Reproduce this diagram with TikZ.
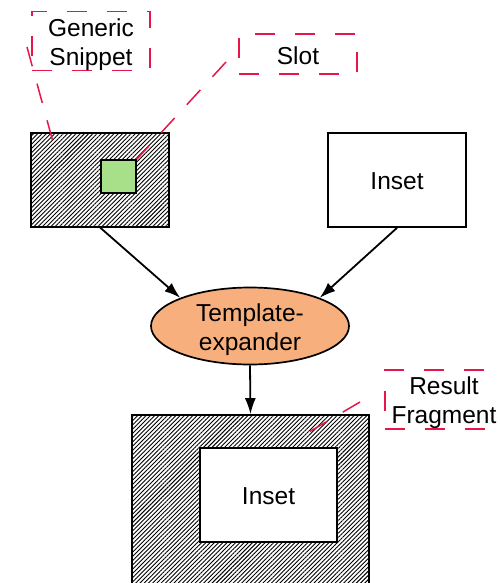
\documentclass[tikz,border=0pt]{standalone}
\usepackage{fontspec}
\setmainfont{Liberation Sans}
\usepackage{tikz}
\usetikzlibrary{shapes,arrows.meta,patterns.meta,positioning,calc}
\definecolor{notered}{RGB}{232,22,72}
\definecolor{slotgreen}{RGB}{168,224,138}
\definecolor{expanderorange}{RGB}{247,176,125}

\begin{document}
\begin{tikzpicture}[
    x=1pt, y=-1pt,
    font=\fontsize{24.5}{29}\selectfont,
    box/.style={rectangle, draw, line width=1.7pt, inner sep=0pt},
    hatched/.style={box, pattern={Lines[angle=45,distance=3pt,line width=0.9pt]}},
    slotbox/.style={box, fill=slotgreen},
    insetbox/.style={box, fill=white, text height=19.5pt, text depth=0pt},
    expander/.style={ellipse, draw, line width=1.7pt, fill=expanderorange, inner sep=0pt},
    note/.style={rectangle, draw=notered, line width=1.5pt, dash pattern=on 20pt off 20pt, inner sep=0pt},
    notetext/.style={align=center, inner sep=0pt},
    noteline/.style={draw=notered, line width=1.5pt, dash pattern=on 20pt off 18pt},
    flow/.style={-{Latex[length=16pt,width=11pt]}, line width=1.8pt}
]
    \clip (0,0) rectangle (499,583);

    % inputs
    \node[hatched, minimum width=138pt, minimum height=94pt] (snippet) at (100,180) {};
    \node[slotbox, minimum width=35pt, minimum height=33pt] (slot) at (118.5,176.5) {};
    \node[insetbox, minimum width=138pt, minimum height=94pt] (inset) at (397,180) {Inset};

    % expander
    \node[expander, minimum width=198pt, minimum height=77pt] (exp) at (250,326) {};
    \node[notetext] (exptext) at ([yshift=-4pt]exp.center) {Template-\\expander};

    % result
    \node[hatched, minimum width=237pt, minimum height=180pt] (result) at (250.5,505) {};
    \node[insetbox, minimum width=137pt, minimum height=94pt] (resinset) at (268.5,495) {Inset};

    % notes
    \node[note, minimum width=118pt, minimum height=59pt] (genericnote) at (91,41) {};
    \node[notetext] (generictext) at ([yshift=-3.5pt]genericnote.center) {Generic\\Snippet};
    \node[note, minimum width=118pt, minimum height=40pt, text height=20.5pt, text depth=0pt] (slotnote) at (298,54) {Slot};
    \node[note, minimum width=120pt, minimum height=59pt] (resultnote) at (445,399.5) {};
    \node[notetext] (resulttext) at ([xshift=-1pt,yshift=-3pt]resultnote.center) {Result\\Fragment};

    \coordinate (genericfrom) at (27,47);
    \coordinate (genericto) at (53,142);
    \coordinate (slotfrom) at (226,62);
    \coordinate (resultfrom) at (360,402);
    \coordinate (resultto) at (309,432);

    \draw[noteline] (genericfrom) -- (genericto);
    \draw[noteline] (slotfrom) -- (slot.north east);
    \draw[noteline] (resultfrom) -- (resultto);

    % flow
    \draw[flow] (snippet.south) -- (exp.158);
    \draw[flow] (inset.south) -- (exp.22);
    \draw[flow] (exp.south) -- (result.north);
\end{tikzpicture}
\end{document}
